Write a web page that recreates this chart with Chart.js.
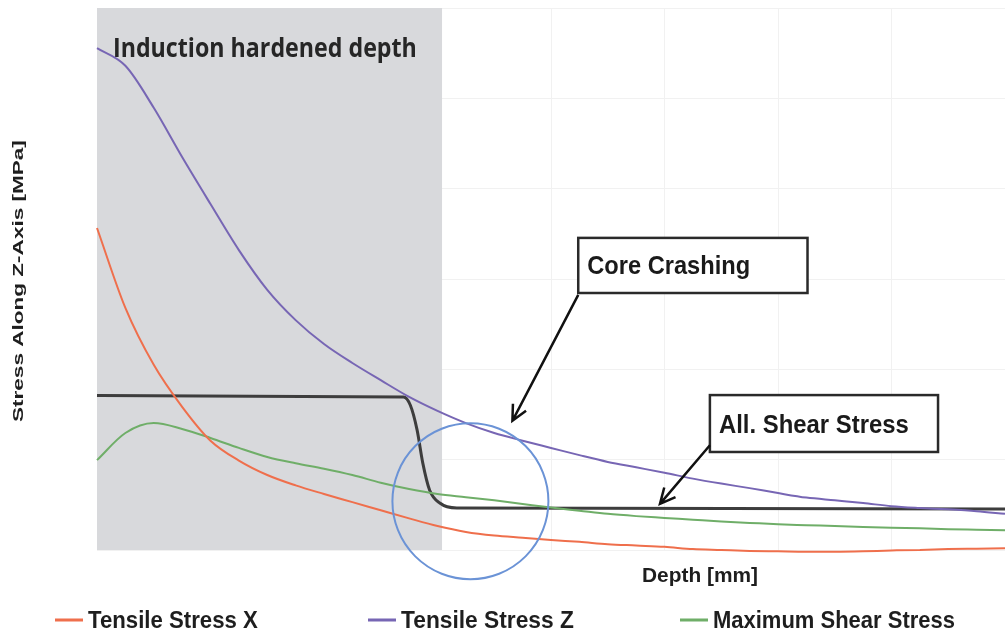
<!DOCTYPE html>
<html>
<head>
<meta charset="utf-8">
<script src="https://cdn.jsdelivr.net/npm/chart.js@4.4.0/dist/chart.umd.min.js"></script>
<style>
    html, body { margin: 0; padding: 0; background: #ffffff; }
    #wrap { width: 1005px; height: 632px; }
</style>
</head>
<body>
<div id="wrap"><canvas id="stressChart" width="1005" height="632"></canvas></div>
<script>
// depth [mm] sampled every 0.25 mm
const depth = [0, 0.25, 0.5, 0.75, 1, 1.25, 1.5, 1.75, 2, 2.25, 2.5, 2.75, 3, 3.25, 3.5, 3.75, 4,
    4.25, 4.5, 4.75, 5, 5.25, 5.5, 5.75, 6, 6.25, 6.5, 6.75, 7, 7.25, 7.5, 7.75, 8];

const tensileX = [71.3, 53.6, 41.0, 31.7, 24.2, 19.8, 16.6, 14.3, 12.4, 10.6, 8.8, 7.0, 5.3, 4.0, 3.2, 2.7, 2.2,
    1.8, 1.3, 1.0, 0.7, 0.2, 0.0, -0.2, -0.3, -0.4, -0.4, -0.3, -0.1, 0.0, 0.2, 0.3, 0.4];

const tensileZ = [111.1, 107.2, 97.9, 87.0, 76.6, 66.4, 57.6, 50.9, 45.6, 41.4, 37.6, 33.9, 30.8, 28.1, 25.9, 24.2, 22.6,
    21.0, 19.5, 18.3, 17.1, 15.8, 14.7, 13.7, 12.6, 11.6, 11.0, 10.4, 9.7, 9.3, 9.0, 8.6, 8.0];

const maxShear = [19.9, 25.9, 28.1, 26.8, 24.8, 22.6, 20.6, 19.2, 18.0, 16.6, 14.9, 13.5, 12.4, 11.7, 11.0, 10.2, 9.4,
    8.7, 8.0, 7.5, 7.1, 6.7, 6.3, 6.0, 5.7, 5.5, 5.3, 5.1, 4.9, 4.8, 4.6, 4.5, 4.4];

// allowable shear stress (step at the end of the hardened layer)
const allowDepth = [0, 2.70, 2.76, 2.82, 2.87, 2.93, 3.02, 3.17, 8];
const allowShear = [34.2, 33.9, 32.1, 26.6, 19.3, 13.3, 10.4, 9.3, 9.1];

const seriesNames = ['Tensile Stress X', 'Tensile Stress Z', 'Maximum Shear Stress'];
const seriesColors = ['#ef6f4c', '#7766b4', '#6fae68'];
const allowColor = '#3d3d3d';

const hardenedDepth = 3.04;
const hardenedLabel = 'Induction hardened depth';
const xTitle = 'Depth [mm]';
const yTitle = 'Stress Along Z-Axis [MPa]';

// callouts, in data units (depth, stress)
const callouts = [
    { text: 'Core Crashing', box: [4.24, 69.1, 6.26, 56.9], from: [4.24, 56.5], to: [3.66, 28.6] },
    { text: 'All. Shear Stress', box: [5.4, 34.3, 7.41, 21.7], from: [5.4, 23.2], to: [4.96, 10.2] }
];
const focusCircle = { x: 3.29, y: 10.8, r: 78 };

function pts(xs, ys) {
    return xs.map((x, i) => ({ x: x, y: ys[i] }));
}

// draw text stretched to a given width and cap height
function fitText(ctx, text, x, baseline, width, capH, weight, family) {
    ctx.save();
    ctx.font = `${weight} 100px ${family}`;
    const size = 100 * width / ctx.measureText(text).width;
    ctx.font = `${weight} ${size}px ${family}`;
    ctx.translate(x, baseline);
    ctx.scale(1, capH / (size * 0.72));
    ctx.textBaseline = 'alphabetic';
    ctx.textAlign = 'left';
    ctx.fillText(text, 0, 0);
    ctx.restore();
}

function arrow(ctx, x1, y1, x2, y2) {
    const a = Math.atan2(y2 - y1, x2 - x1);
    const len = 17;
    ctx.beginPath();
    ctx.moveTo(x1, y1);
    ctx.lineTo(x2, y2);
    ctx.moveTo(x2 - len * Math.cos(a - 0.45), y2 - len * Math.sin(a - 0.45));
    ctx.lineTo(x2, y2);
    ctx.lineTo(x2 - len * Math.cos(a + 0.45), y2 - len * Math.sin(a + 0.45));
    ctx.stroke();
}

const hardenedZone = {
    id: 'hardenedZone',
    beforeDatasetsDraw(chart) {
        const { ctx, chartArea, scales } = chart;
        const x0 = scales.x.getPixelForValue(0);
        const x1 = scales.x.getPixelForValue(hardenedDepth);
        ctx.save();
        ctx.fillStyle = '#d8d9dc';
        ctx.fillRect(x0, chartArea.top, x1 - x0, chartArea.bottom - chartArea.top);
        ctx.fillStyle = '#262626';
        fitText(ctx, hardenedLabel, x0 + 16, 57, 304, 19, 'bold', '"Open Sans"');
        ctx.restore();
    }
};

const annotations = {
    id: 'annotations',
    afterDatasetsDraw(chart) {
        const { ctx, scales } = chart;
        const px = v => scales.x.getPixelForValue(v);
        const py = v => scales.y.getPixelForValue(v);
        ctx.save();

        ctx.strokeStyle = '#6b93d6';
        ctx.lineWidth = 2;
        ctx.beginPath();
        ctx.arc(px(focusCircle.x), py(focusCircle.y), focusCircle.r, 0, Math.PI * 2);
        ctx.stroke();

        callouts.forEach(c => {
            const bx = px(c.box[0]), by = py(c.box[1]);
            const bw = px(c.box[2]) - bx, bh = py(c.box[3]) - by;
            ctx.fillStyle = '#ffffff';
            ctx.fillRect(bx, by, bw, bh);
            ctx.strokeStyle = '#2a2a2a';
            ctx.lineWidth = 2.5;
            ctx.strokeRect(bx, by, bw, bh);
            ctx.fillStyle = '#1a1a1a';
            const tw = c.text === 'Core Crashing' ? 163 : 190;
            fitText(ctx, c.text, bx + 9, by + bh / 2 + 9, tw, 18, 'bold', '"Liberation Sans"');
            ctx.strokeStyle = '#111111';
            ctx.lineWidth = 2.5;
            arrow(ctx, px(c.from[0]), py(c.from[1]), px(c.to[0]), py(c.to[1]));
        });
        ctx.restore();
    },
    afterDraw(chart) {
        const { ctx } = chart;
        ctx.save();
        ctx.fillStyle = '#1e1e1e';
        // x axis title
        fitText(ctx, xTitle, 642, 582, 116, 15, 'bold', '"Liberation Sans"');
        // y axis title, rotated
        ctx.save();
        ctx.translate(23, 422);
        ctx.rotate(-Math.PI / 2);
        fitText(ctx, yTitle, 0, 0, 282, 10.5, 'bold', '"Liberation Sans"');
        ctx.restore();
        // legend
        const legendX = [55, 368, 680];
        const legendW = [170, 173, 242];
        seriesNames.forEach((name, i) => {
            ctx.fillStyle = seriesColors[i];
            ctx.fillRect(legendX[i], 618.5, 28, 3);
            ctx.fillStyle = '#1e1e1e';
            fitText(ctx, name, legendX[i] + 33, 628, legendW[i], 17, 'bold', '"Liberation Sans"');
        });
        ctx.restore();
    }
};

const ctx = document.getElementById('stressChart').getContext('2d');
const lineStyle = { pointRadius: 0, fill: false, cubicInterpolationMode: 'monotone', clip: 6 };

new Chart(ctx, {
    type: 'line',
    data: {
        datasets: [
            Object.assign({ label: seriesNames[0], data: pts(depth, tensileX), borderColor: seriesColors[0], borderWidth: 2 }, lineStyle),
            Object.assign({ label: seriesNames[1], data: pts(depth, tensileZ), borderColor: seriesColors[1], borderWidth: 2 }, lineStyle),
            Object.assign({ label: seriesNames[2], data: pts(depth, maxShear), borderColor: seriesColors[2], borderWidth: 2 }, lineStyle),
            Object.assign({ label: 'All. Shear Stress', data: pts(allowDepth, allowShear), borderColor: allowColor, borderWidth: 3 }, lineStyle)
        ]
    },
    options: {
        responsive: false,
        animation: false,
        devicePixelRatio: 1,
        layout: { padding: { left: 97, top: 8, right: 0, bottom: 82 } },
        scales: {
            x: {
                type: 'linear', min: 0, max: 8,
                ticks: { display: false, stepSize: 1 },
                grid: { color: '#f1f1f1', drawTicks: false },
                border: { display: false }
            },
            y: {
                min: 0, max: 120,
                ticks: { display: false, stepSize: 20 },
                grid: { color: '#f1f1f1', drawTicks: false },
                border: { display: false }
            }
        },
        plugins: {
            legend: { display: false },
            tooltip: { enabled: false }
        }
    },
    plugins: [hardenedZone, annotations]
});
</script>
</body>
</html>
